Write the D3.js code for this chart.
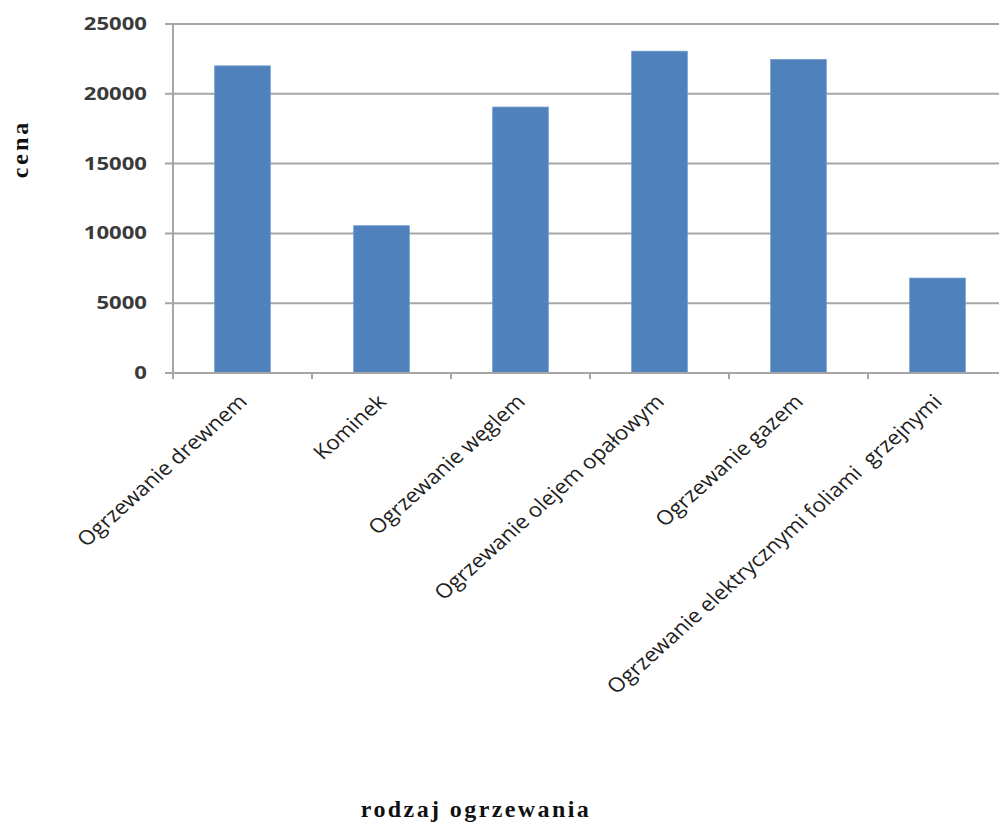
<!DOCTYPE html>
<html>
<head>
<meta charset="utf-8">
<script src="https://cdn.jsdelivr.net/npm/d3@7"></script>
<style>
    body { margin: 0; background: #fff; }
    svg { display: block; }
</style>
</head>
<body>
<div id="chart"></div>
<script>
// data
var categories = [
    "Ogrzewanie drewnem",
    "Kominek",
    "Ogrzewanie węglem",
    "Ogrzewanie olejem opałowym",
    "Ogrzewanie gazem",
    "Ogrzewanie elektrycznymi foliami  grzejnymi"
];
var prices = [22000, 10550, 19050, 23050, 22450, 6800];
var yTicks = [0, 5000, 10000, 15000, 20000, 25000];

var yTitle = "cena";
var xTitle = "rodzaj ogrzewania";

(function () {
    var width = 999,
        height = 825;
    var margin = { left: 173, top: 24, right: -8, bottom: 452 };

    var svg = d3.select("#chart")
        .append("svg")
        .attr("width", width)
        .attr("height", height);

    var x = d3.scaleBand()
        .domain(categories)
        .range([margin.left, width - margin.right])
        .paddingInner(0.6)
        .paddingOuter(0.3);

    var y = d3.scaleLinear()
        .domain([0, d3.max(yTicks)])
        .range([height - margin.bottom, margin.top]);

    var gridColor = "#a6a6a6";

    // horizontal gridlines
    svg.append("g")
        .selectAll("line")
        .data(yTicks)
        .enter()
        .append("line")
        .attr("x1", margin.left - 8)
        .attr("x2", width)
        .attr("y1", function (d) { return y(d); })
        .attr("y2", function (d) { return y(d); })
        .attr("stroke", gridColor)
        .attr("stroke-width", 2);

    // bars
    svg.append("g")
        .selectAll("rect")
        .data(prices)
        .enter()
        .append("rect")
        .attr("x", function (d, i) { return x(categories[i]); })
        .attr("y", function (d) { return y(d); })
        .attr("width", x.bandwidth())
        .attr("height", function (d) { return y(0) - y(d); })
        .attr("fill", "#4f81bd")
        .attr("stroke", "#6b97cc")
        .attr("stroke-width", 0.8);

    // y axis line
    svg.append("line")
        .attr("x1", margin.left)
        .attr("x2", margin.left)
        .attr("y1", y(d3.max(yTicks)))
        .attr("y2", y(0) + 6)
        .attr("stroke", gridColor)
        .attr("stroke-width", 2);

    // x axis line drawn again over the bars
    svg.append("line")
        .attr("x1", margin.left)
        .attr("x2", width)
        .attr("y1", y(0))
        .attr("y2", y(0))
        .attr("stroke", gridColor)
        .attr("stroke-width", 2);

    // category tick marks between the bands
    var gap = (x.step() - x.bandwidth()) / 2;
    svg.append("g")
        .selectAll("line")
        .data(categories.slice(1))
        .enter()
        .append("line")
        .attr("x1", function (d) { return x(d) - gap; })
        .attr("x2", function (d) { return x(d) - gap; })
        .attr("y1", y(0))
        .attr("y2", y(0) + 6)
        .attr("stroke", gridColor)
        .attr("stroke-width", 2);

    // y tick labels
    svg.append("g")
        .selectAll("text")
        .data(yTicks)
        .enter()
        .append("text")
        .attr("transform", function (d) {
            return "translate(" + (margin.left - 26) + "," + (y(d) + 6) + ") scale(1.3,1)";
        })
        .attr("text-anchor", "end")
        .attr("font-family", "'Open Sans', sans-serif")
        .attr("font-size", "17px")
        .attr("font-weight", "bold")
        .attr("fill", "#3a3a3a")
        .text(function (d) { return d; });

    // category labels, slanted (keep the double space in the last one)
    svg.append("g")
        .selectAll("text")
        .data(categories)
        .enter()
        .append("text")
        .attr("transform", function (d) {
            var cx = x(d) + x.bandwidth() / 2 + 6;
            return "translate(" + cx + "," + (y(0) + 30) + ") scale(1.12,1) rotate(-45)";
        })
        .attr("text-anchor", "end")
        .style("white-space", "pre")
        .attr("font-family", "'Open Sans', sans-serif")
        .attr("font-size", "20px")
        .attr("fill", "#222")
        .text(function (d) { return d; });

    // axis titles
    svg.append("text")
        .attr("transform", "translate(28," + 149 + ") rotate(-90)")
        .attr("text-anchor", "middle")
        .attr("font-family", "'Liberation Serif', serif")
        .attr("font-size", "24px")
        .attr("font-weight", "bold")
        .attr("letter-spacing", "3px")
        .attr("fill", "#111")
        .text(yTitle);

    svg.append("text")
        .attr("x", 476)
        .attr("y", 817)
        .attr("text-anchor", "middle")
        .attr("font-family", "'Liberation Serif', serif")
        .attr("font-size", "24px")
        .attr("font-weight", "bold")
        .attr("letter-spacing", "2.4px")
        .attr("fill", "#111")
        .text(xTitle);
}());
</script>
</body>
</html>
